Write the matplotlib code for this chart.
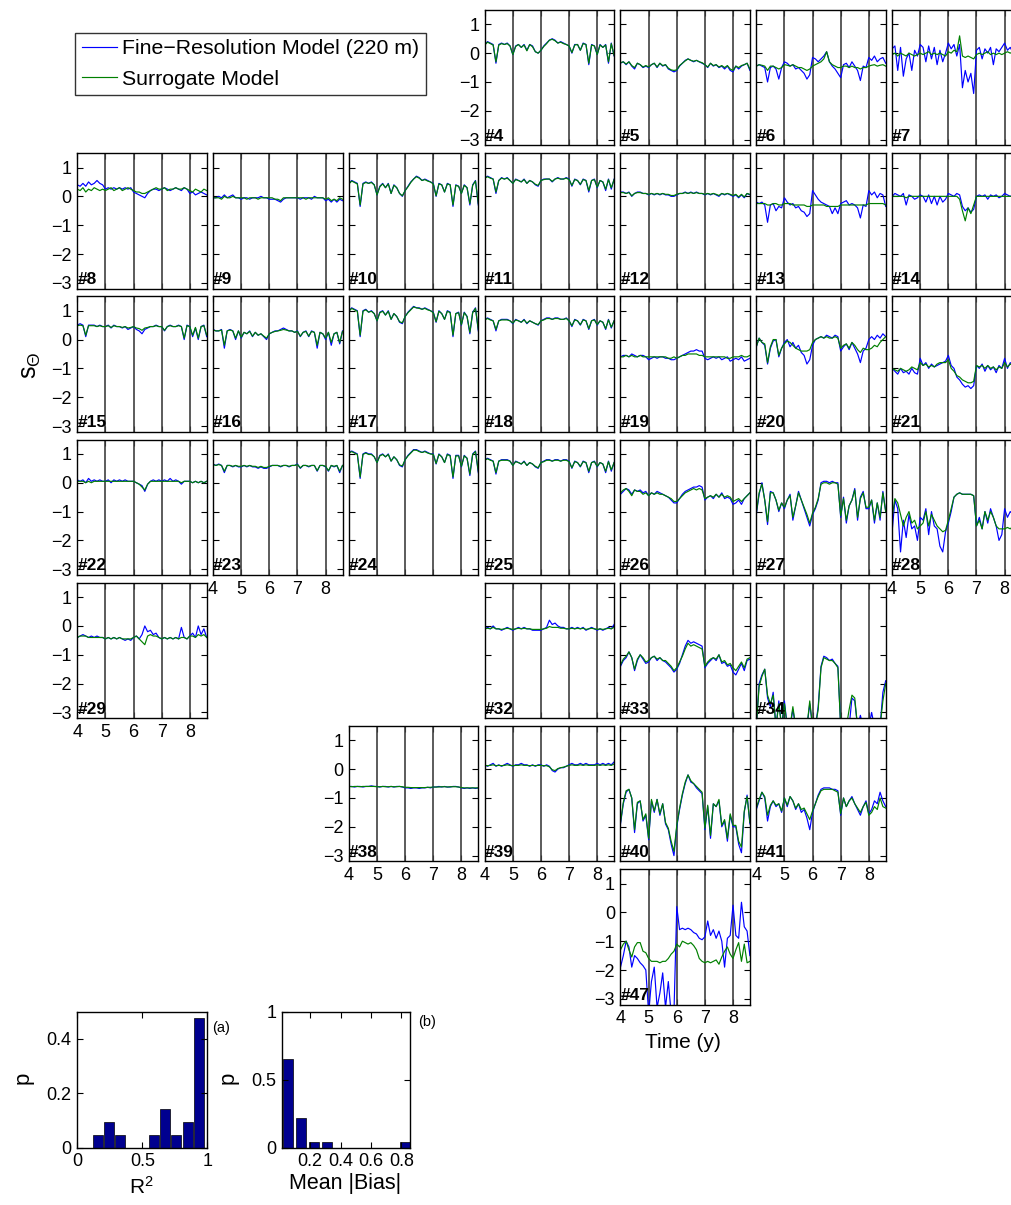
import matplotlib
matplotlib.use('Agg')
import matplotlib.pyplot as plt
from matplotlib.ticker import StrMethodFormatter

plt.rcParams['font.family'] = ['Liberation Sans', 'DejaVu Sans']
plt.rcParams['mathtext.fontset'] = 'custom'
plt.rcParams['mathtext.rm'] = 'Liberation Sans'
plt.rcParams['mathtext.it'] = 'Liberation Sans:italic'

# ---------------- data ----------------
time_y = [4.0, 4.1, 4.2, 4.3, 4.4, 4.5, 4.6, 4.7, 4.8, 4.9,
          5.0, 5.1, 5.2, 5.3, 5.4, 5.5, 5.6, 5.7, 5.8, 5.9,
          6.0, 6.1, 6.2, 6.3, 6.4, 6.5, 6.6, 6.7, 6.8, 6.9,
          7.0, 7.1, 7.2, 7.3, 7.4, 7.5, 7.6, 7.7, 7.8, 7.9,
          8.0, 8.1, 8.2, 8.3, 8.4, 8.5, 8.6]
year_lines = [5, 6, 7, 8]

# f = fine-resolution model (blue), s = surrogate model (green)
f04 = [0.3,0.4,0.35,0.3,-0.35,0.3,0.35,0.3,0.35,0.25, -0.05,0.25,0.3,0.2,0.3,0.1,0.3,0.25,0.05,0.0, 0.1,0.25,0.35,0.45,0.5,0.45,0.35,0.4,0.35,0.3, 0.25,0.0,0.3,0.3,0.1,0.35,0.3,-0.4,0.3,0.25, -0.05,0.3,0.2,0.3,-0.35,0.35,-0.1]
s04 = [0.28,0.38,0.33,0.28,-0.3,0.28,0.33,0.3,0.33,0.25, -0.05,0.23,0.3,0.2,0.28,0.08,0.3,0.22,0.05,0.0, 0.1,0.23,0.33,0.45,0.48,0.43,0.35,0.38,0.33,0.3, 0.25,0.02,0.28,0.3,0.1,0.33,0.3,-0.35,0.28,0.25, -0.05,0.28,0.2,0.28,-0.3,0.33,-0.08]
f05 = [-0.35,-0.3,-0.4,-0.3,-0.45,-0.55,-0.35,-0.4,-0.5,-0.45, -0.5,-0.4,-0.35,-0.5,-0.35,-0.45,-0.4,-0.55,-0.6,-0.65, -0.6,-0.45,-0.35,-0.25,-0.2,-0.25,-0.3,-0.25,-0.3,-0.35, -0.4,-0.5,-0.35,-0.45,-0.4,-0.5,-0.45,-0.55,-0.45,-0.6, -0.65,-0.45,-0.55,-0.45,-0.4,-0.35,-0.6]
s05 = [-0.33,-0.3,-0.38,-0.3,-0.43,-0.5,-0.35,-0.4,-0.48,-0.43, -0.48,-0.4,-0.35,-0.48,-0.35,-0.43,-0.4,-0.52,-0.58,-0.6, -0.58,-0.43,-0.35,-0.27,-0.2,-0.25,-0.28,-0.25,-0.3,-0.33, -0.4,-0.48,-0.35,-0.43,-0.4,-0.48,-0.43,-0.5,-0.43,-0.55, -0.6,-0.45,-0.5,-0.43,-0.4,-0.35,-0.55]
f06 = [-0.45,-0.4,-0.45,-0.5,-1.0,-0.5,-0.45,-0.55,-0.9,-0.5, -0.3,-0.35,-0.45,-0.4,-0.55,-0.5,-0.6,-0.7,-0.9,-0.75, -0.15,-0.2,-0.3,-0.2,-0.1,0.05,-0.3,-0.45,-0.55,-0.7, -0.85,-0.4,-0.35,-0.5,-0.3,-0.45,-0.6,-0.95,-0.45,-0.5, -0.15,-0.25,-0.1,-0.3,-0.2,-0.15,-0.35]
s06 = [-0.45,-0.4,-0.42,-0.45,-0.6,-0.45,-0.45,-0.5,-0.55,-0.5, -0.4,-0.42,-0.45,-0.4,-0.45,-0.5,-0.5,-0.55,-0.6,-0.55, -0.45,-0.4,-0.35,-0.3,-0.2,0.05,-0.3,-0.4,-0.45,-0.5, -0.5,-0.45,-0.45,-0.5,-0.45,-0.5,-0.5,-0.55,-0.5,-0.5, -0.45,-0.42,-0.4,-0.45,-0.42,-0.4,-0.45]
f07 = [0.15,0.25,-0.6,0.2,-0.8,-0.2,0.0,-0.6,0.1,-0.1, 0.3,0.2,-0.3,0.25,-0.2,0.2,-0.4,0.1,-0.3,0.0, 0.35,0.15,0.3,-0.1,0.3,-1.2,-0.6,-1.0,-0.7,-1.4, 0.1,0.2,-0.2,0.15,0.0,0.2,-0.4,0.15,0.05,0.2, 0.35,0.1,0.2,0.0,0.2,0.1,0.15]
s07 = [-0.05,0.0,-0.1,0.0,-0.05,-0.1,0.0,-0.05,-0.1,-0.05, 0.0,-0.05,0.0,0.05,-0.05,0.0,-0.05,0.0,-0.05,-0.1, 0.05,0.0,0.1,0.05,0.6,-0.1,-0.15,-0.1,-0.15,-0.2, -0.05,0.0,-0.05,0.0,0.05,-0.05,0.0,-0.05,0.0,-0.05, 0.0,0.05,0.0,0.05,0.0,-0.05,0.0]
f08 = [0.4,0.35,0.45,0.35,0.5,0.4,0.45,0.55,0.45,0.4, 0.25,0.3,0.25,0.3,0.25,0.3,0.25,0.3,0.25,0.3, 0.15,0.1,0.05,0.0,-0.05,0.1,0.2,0.25,0.25,0.2, 0.25,0.3,0.25,0.2,0.25,0.3,0.25,0.2,0.3,0.25, 0.1,0.15,0.05,0.1,0.15,0.1,0.05]
s08 = [0.25,0.2,0.3,0.15,0.25,0.2,0.3,0.25,0.2,0.25, 0.2,0.25,0.3,0.2,0.25,0.3,0.2,0.25,0.3,0.25, 0.2,0.15,0.15,0.1,0.1,0.15,0.2,0.25,0.3,0.25, 0.25,0.3,0.2,0.25,0.25,0.3,0.25,0.25,0.3,0.25, 0.2,0.15,0.25,0.2,0.15,0.25,0.2]
f09 = [-0.05,-0.05,0.0,-0.05,0.05,-0.05,0.0,0.05,-0.05,-0.05, -0.1,-0.05,-0.05,-0.1,-0.05,-0.05,-0.05,0.0,-0.05,-0.05, -0.1,-0.1,-0.1,-0.15,-0.2,-0.1,-0.05,-0.05,-0.05,-0.05, -0.05,-0.1,-0.05,-0.05,-0.05,-0.1,0.0,-0.05,-0.05,-0.05, -0.15,-0.1,-0.2,-0.1,-0.2,-0.1,-0.15]
s09 = [-0.05,-0.05,-0.05,-0.1,0.0,-0.05,-0.05,0.0,-0.05,-0.05, -0.05,-0.05,-0.1,-0.05,-0.05,-0.05,-0.1,-0.05,-0.05,-0.05, -0.05,-0.05,-0.1,-0.1,-0.15,-0.05,-0.05,-0.05,-0.05,-0.05, -0.05,-0.05,-0.05,-0.1,-0.05,-0.05,-0.05,-0.05,-0.05,-0.05, -0.1,-0.05,-0.15,-0.1,-0.15,-0.05,-0.1]
f10 = [0.45,0.55,0.5,0.45,-0.35,0.45,0.5,0.45,0.5,0.4, 0.05,0.35,0.45,0.3,0.45,0.1,0.4,0.3,0.1,0.0, 0.2,0.35,0.5,0.6,0.7,0.65,0.55,0.6,0.55,0.5, 0.45,0.0,0.45,0.4,0.15,0.45,0.4,-0.35,0.4,0.35, 0.1,0.4,0.3,-0.3,0.4,0.55,-0.3]
s10 = [0.43,0.53,0.48,0.43,-0.3,0.43,0.48,0.45,0.48,0.4, 0.05,0.33,0.43,0.3,0.43,0.1,0.38,0.3,0.1,0.02, 0.2,0.33,0.48,0.6,0.68,0.63,0.55,0.58,0.53,0.5, 0.43,0.02,0.43,0.4,0.15,0.43,0.4,-0.3,0.38,0.35, 0.1,0.38,0.3,-0.25,0.38,0.53,-0.25]
f11 = [0.65,0.7,0.65,0.6,0.1,0.55,0.65,0.6,0.65,0.55, 0.45,0.6,0.55,0.5,0.6,0.45,0.55,0.5,0.4,0.35, 0.55,0.6,0.6,0.6,0.5,0.6,0.65,0.6,0.6,0.65, 0.6,0.35,0.6,0.55,0.4,0.6,0.55,0.15,0.55,0.6, 0.3,0.55,0.5,0.2,0.6,0.25,0.6]
s11 = [0.63,0.68,0.63,0.6,0.15,0.55,0.63,0.6,0.63,0.55, 0.45,0.58,0.55,0.5,0.58,0.45,0.55,0.5,0.42,0.38, 0.55,0.58,0.6,0.6,0.52,0.6,0.63,0.6,0.6,0.63, 0.58,0.38,0.58,0.55,0.42,0.58,0.55,0.2,0.55,0.58, 0.32,0.55,0.5,0.25,0.58,0.3,0.58]
f12 = [0.15,0.15,0.1,0.15,0.0,0.1,0.15,0.15,0.1,0.1, 0.05,0.1,0.05,0.1,0.05,0.1,0.05,0.05,0.0,0.0, 0.05,0.1,0.1,0.15,0.1,0.15,0.1,0.15,0.1,0.1, 0.05,0.1,0.05,0.1,0.05,0.0,0.1,0.05,0.1,0.05, 0.0,0.05,-0.05,0.05,-0.05,0.1,0.05]
s12 = [0.13,0.13,0.1,0.13,0.02,0.1,0.13,0.13,0.1,0.1, 0.07,0.1,0.07,0.1,0.07,0.1,0.07,0.07,0.03,0.03, 0.07,0.1,0.1,0.13,0.1,0.13,0.1,0.13,0.1,0.1, 0.07,0.1,0.07,0.1,0.07,0.03,0.1,0.07,0.1,0.07, 0.03,0.07,-0.02,0.07,-0.02,0.1,0.07]
f13 = [-0.2,-0.25,-0.2,-0.3,-0.9,-0.3,-0.25,-0.5,-0.35,-0.4, -0.05,-0.2,-0.3,-0.25,-0.4,-0.35,-0.5,-0.55,-0.7,-0.6, 0.2,0.05,-0.1,-0.2,-0.25,-0.3,-0.35,-0.6,-0.4,-0.6, -0.25,-0.2,-0.15,-0.3,-0.25,-0.3,-0.4,-0.75,-0.3,-0.35, 0.2,0.05,0.15,-0.05,0.1,0.05,-0.35]
s13 = [-0.25,-0.25,-0.25,-0.25,-0.3,-0.3,-0.25,-0.25,-0.3,-0.3, -0.25,-0.25,-0.25,-0.3,-0.3,-0.3,-0.3,-0.3,-0.35,-0.35, -0.3,-0.3,-0.3,-0.3,-0.3,-0.35,-0.35,-0.35,-0.35,-0.35, -0.3,-0.3,-0.3,-0.3,-0.3,-0.3,-0.3,-0.3,-0.3,-0.3, -0.25,-0.25,-0.25,-0.25,-0.25,-0.25,-0.3]
f14 = [0.0,0.1,0.05,0.0,0.1,-0.3,0.05,0.0,-0.1,-0.05, 0.05,0.0,-0.2,0.05,-0.25,0.0,-0.3,0.0,-0.2,-0.1, 0.1,0.05,0.0,0.1,0.05,-0.35,-0.5,-0.4,-0.55,-0.45, 0.0,0.05,0.0,0.05,-0.1,0.05,0.0,0.05,-0.05,0.0, 0.1,0.05,0.0,0.05,0.0,0.05,0.0]
s14 = [0.0,0.0,0.0,0.0,0.0,-0.05,0.0,0.0,0.0,0.0, 0.0,0.0,0.0,0.0,0.0,0.0,0.0,0.0,0.0,0.0, 0.0,0.0,0.0,0.0,-0.1,-0.5,-0.85,-0.4,-0.6,-0.3, 0.0,0.0,0.0,0.0,0.0,0.0,0.0,0.0,0.0,0.0, 0.0,0.0,0.0,0.0,0.0,0.0,0.0]
f15 = [0.5,0.55,0.5,0.1,0.5,0.5,0.5,0.45,0.5,0.45, 0.45,0.5,0.4,0.5,0.45,0.45,0.4,0.45,0.35,0.4, 0.45,0.35,0.3,0.2,0.35,0.4,0.45,0.45,0.5,0.45, 0.45,0.3,0.45,0.5,0.45,0.45,0.5,0.45,0.0,0.5, 0.45,0.1,0.4,0.0,0.45,0.5,0.1]
s15 = [0.48,0.5,0.48,0.15,0.48,0.48,0.48,0.45,0.48,0.45, 0.45,0.48,0.42,0.48,0.45,0.45,0.42,0.45,0.4,0.42, 0.45,0.4,0.38,0.32,0.4,0.42,0.45,0.45,0.48,0.45, 0.45,0.32,0.45,0.48,0.45,0.45,0.48,0.45,0.05,0.48, 0.45,0.15,0.42,0.05,0.45,0.48,0.15]
f16 = [0.35,0.3,0.3,0.35,-0.3,0.3,0.35,0.3,0.0,0.3, 0.05,0.25,0.2,0.3,0.1,0.25,0.15,0.2,0.1,0.0, 0.2,0.25,0.3,0.3,0.35,0.4,0.35,0.3,0.3,0.25, 0.3,0.1,0.25,0.3,0.1,0.3,0.25,-0.3,0.25,0.2, 0.0,0.25,-0.2,0.2,0.25,-0.15,0.3]
s16 = [0.33,0.3,0.3,0.33,-0.2,0.3,0.33,0.3,0.05,0.3, 0.08,0.25,0.2,0.28,0.12,0.25,0.15,0.2,0.12,0.05, 0.2,0.25,0.28,0.3,0.32,0.35,0.33,0.3,0.3,0.25, 0.28,0.12,0.25,0.28,0.12,0.28,0.25,-0.2,0.25,0.2, 0.05,0.25,-0.1,0.2,0.25,-0.1,0.28]
f17 = [1.0,1.1,1.05,1.0,0.1,1.0,1.05,0.95,1.0,0.9, 0.65,0.95,1.0,0.85,1.0,0.7,0.9,0.8,0.6,0.55, 0.8,0.95,1.05,1.15,1.1,1.1,1.05,1.1,1.05,1.0, 0.95,0.6,1.0,0.9,0.7,1.0,0.95,0.1,0.9,0.95, 0.5,0.95,0.8,0.2,0.95,1.1,0.3]
s17 = [0.98,1.08,1.03,0.98,0.15,0.98,1.03,0.95,0.98,0.9, 0.65,0.93,0.98,0.85,0.98,0.7,0.9,0.8,0.62,0.58, 0.8,0.93,1.03,1.13,1.1,1.08,1.05,1.08,1.03,1.0, 0.93,0.62,0.98,0.9,0.7,0.98,0.93,0.15,0.9,0.93, 0.52,0.93,0.8,0.25,0.93,1.08,0.35]
f18 = [0.7,0.75,0.7,0.65,0.3,0.65,0.7,0.7,0.7,0.65, 0.55,0.7,0.65,0.6,0.7,0.55,0.65,0.6,0.55,0.5, 0.65,0.7,0.75,0.75,0.7,0.75,0.75,0.7,0.7,0.75, 0.65,0.45,0.7,0.65,0.5,0.7,0.65,0.35,0.65,0.7, 0.5,0.65,0.6,0.35,0.7,0.4,0.65]
s18 = [0.68,0.73,0.68,0.65,0.35,0.65,0.68,0.68,0.68,0.65, 0.57,0.68,0.65,0.6,0.68,0.57,0.65,0.6,0.55,0.52, 0.65,0.68,0.73,0.73,0.7,0.73,0.73,0.7,0.7,0.73, 0.65,0.48,0.68,0.65,0.52,0.68,0.65,0.38,0.65,0.68, 0.52,0.65,0.6,0.38,0.68,0.43,0.65]
f19 = [-0.6,-0.55,-0.55,-0.6,-0.5,-0.55,-0.6,-0.55,-0.55,-0.6, -0.7,-0.65,-0.6,-0.65,-0.6,-0.6,-0.65,-0.65,-0.7,-0.7, -0.65,-0.6,-0.55,-0.5,-0.45,-0.4,-0.4,-0.35,-0.4,-0.4, -0.65,-0.7,-0.65,-0.6,-0.65,-0.6,-0.7,-0.65,-0.6,-0.75, -0.7,-0.65,-0.7,-0.6,-0.75,-0.7,-0.65]
s19 = [-0.6,-0.6,-0.55,-0.6,-0.55,-0.6,-0.6,-0.55,-0.6,-0.6, -0.6,-0.6,-0.6,-0.6,-0.6,-0.6,-0.6,-0.65,-0.65,-0.6, -0.65,-0.6,-0.55,-0.55,-0.5,-0.5,-0.5,-0.5,-0.55,-0.55, -0.6,-0.6,-0.6,-0.6,-0.6,-0.6,-0.6,-0.6,-0.65,-0.65, -0.6,-0.6,-0.6,-0.55,-0.6,-0.6,-0.55]
f20 = [-0.25,0.05,-0.1,-0.2,-0.85,-0.3,-0.05,0.0,-0.6,-0.3, -0.1,0.0,-0.25,-0.1,-0.3,-0.2,-0.45,-0.55,-0.85,-0.7, -0.2,0.0,0.05,0.1,0.05,0.15,0.1,0.05,0.15,0.1, -0.4,-0.25,-0.15,-0.35,-0.1,-0.3,-0.5,-0.8,-0.4,-0.3, 0.0,0.1,0.0,0.15,0.05,0.2,0.1]
s20 = [-0.25,0.05,-0.1,-0.15,-0.8,-0.25,0.0,0.0,-0.55,-0.3, -0.15,-0.05,-0.1,-0.2,-0.3,-0.35,-0.4,-0.4,-0.4,-0.35, -0.1,0.0,0.05,0.1,0.05,0.1,0.05,0.05,0.1,0.05, -0.3,-0.2,-0.15,-0.3,-0.1,-0.2,-0.35,-0.45,-0.3,-0.35, -0.35,-0.3,-0.2,-0.25,-0.1,0.0,0.1]
f21 = [-1.0,-1.1,-1.2,-1.0,-1.15,-1.1,-1.2,-1.0,-1.15,-1.2, -0.65,-0.9,-0.8,-1.0,-0.85,-0.95,-0.9,-0.85,-0.8,-0.75, -0.55,-0.9,-1.0,-1.3,-1.4,-1.55,-1.65,-1.6,-1.7,-1.6, -0.9,-1.0,-0.85,-1.1,-0.9,-1.05,-0.95,-1.15,-0.9,-1.0, -0.65,-1.0,-0.8,-0.9,-0.85,-0.95,-0.9]
s21 = [-1.0,-1.05,-1.1,-1.0,-1.05,-1.1,-1.05,-0.95,-1.0,-1.05, -0.8,-0.9,-0.85,-0.95,-0.9,-0.95,-0.85,-0.8,-0.8,-0.8, -0.7,-1.0,-1.1,-1.25,-1.3,-1.4,-1.45,-1.5,-1.5,-1.45, -0.9,-0.95,-0.9,-1.0,-0.9,-1.0,-0.95,-1.05,-0.95,-1.0, -0.8,-0.95,-0.85,-0.9,-0.9,-0.95,-0.9]
f22 = [0.1,0.05,0.1,0.0,0.15,0.05,0.1,0.05,0.1,0.05, 0.05,0.1,0.0,0.1,0.05,0.1,0.05,0.1,0.05,0.05, 0.05,0.0,-0.05,-0.1,-0.3,-0.05,0.05,0.1,0.05,0.1, 0.05,0.1,0.05,0.15,0.05,0.1,0.05,-0.05,0.05,0.05, 0.05,0.0,0.05,0.0,0.05,0.0,0.05]
s22 = [0.05,0.05,0.05,0.0,0.05,0.0,0.05,0.05,0.05,0.05, 0.05,0.05,0.05,0.05,0.05,0.05,0.05,0.05,0.05,0.05, 0.05,0.0,-0.05,-0.15,-0.25,-0.05,0.05,0.05,0.05,0.05, 0.05,0.05,0.05,0.05,0.05,0.05,0.05,0.0,0.05,0.05, 0.05,0.0,0.05,0.0,0.05,0.0,0.05]
f23 = [0.65,0.6,0.65,0.6,0.35,0.6,0.6,0.55,0.6,0.55, 0.55,0.6,0.55,0.6,0.55,0.55,0.5,0.55,0.5,0.5, 0.55,0.6,0.6,0.6,0.55,0.6,0.6,0.55,0.6,0.6, 0.65,0.5,0.6,0.6,0.55,0.6,0.6,0.4,0.6,0.6, 0.55,0.4,0.6,0.55,0.6,0.35,0.6]
s23 = [0.63,0.6,0.63,0.6,0.4,0.6,0.6,0.57,0.6,0.57, 0.57,0.6,0.57,0.6,0.57,0.57,0.53,0.57,0.53,0.53, 0.57,0.6,0.6,0.6,0.57,0.6,0.6,0.57,0.6,0.6, 0.63,0.52,0.6,0.6,0.57,0.6,0.6,0.42,0.6,0.6, 0.57,0.42,0.6,0.57,0.6,0.4,0.6]
f24 = [1.05,1.1,1.05,1.0,0.15,1.0,1.05,1.0,1.0,0.9, 0.7,0.95,1.0,0.9,1.0,0.75,0.9,0.8,0.6,0.55, 0.8,0.95,1.05,1.15,1.15,1.1,1.05,1.1,1.05,1.0, 1.0,0.65,1.0,0.9,0.7,1.0,0.95,0.15,0.95,0.95, 0.55,0.95,0.85,0.25,1.0,1.1,0.35]
s24 = [1.03,1.08,1.03,0.98,0.2,0.98,1.03,0.98,0.98,0.9, 0.7,0.93,0.98,0.9,0.98,0.75,0.9,0.8,0.62,0.58, 0.8,0.93,1.03,1.13,1.13,1.08,1.05,1.08,1.03,1.0, 0.98,0.67,0.98,0.9,0.7,0.98,0.93,0.2,0.93,0.93, 0.57,0.93,0.85,0.3,0.98,1.08,0.4]
f25 = [0.8,0.85,0.8,0.75,0.3,0.75,0.8,0.8,0.8,0.75, 0.6,0.75,0.7,0.65,0.75,0.6,0.7,0.65,0.55,0.5, 0.7,0.75,0.8,0.8,0.75,0.8,0.8,0.75,0.8,0.8, 0.75,0.5,0.75,0.7,0.55,0.75,0.7,0.35,0.7,0.75, 0.55,0.7,0.65,0.35,0.75,0.4,0.7]
s25 = [0.78,0.83,0.78,0.75,0.35,0.75,0.78,0.78,0.78,0.75, 0.6,0.73,0.7,0.65,0.73,0.6,0.7,0.65,0.57,0.52, 0.7,0.73,0.78,0.78,0.75,0.78,0.78,0.75,0.78,0.78, 0.73,0.52,0.73,0.7,0.57,0.73,0.7,0.4,0.7,0.73, 0.57,0.7,0.65,0.4,0.73,0.45,0.7]
f26 = [-0.4,-0.3,-0.2,-0.25,-0.4,-0.25,-0.3,-0.25,-0.35,-0.3, -0.45,-0.35,-0.4,-0.3,-0.35,-0.4,-0.45,-0.5,-0.6,-0.7, -0.7,-0.55,-0.4,-0.3,-0.25,-0.2,-0.15,-0.15,-0.1,-0.15, -0.6,-0.5,-0.45,-0.55,-0.4,-0.5,-0.35,-0.55,-0.5,-0.55, -0.75,-0.7,-0.6,-0.75,-0.55,-0.45,-0.35]
s26 = [-0.35,-0.25,-0.2,-0.3,-0.45,-0.25,-0.3,-0.3,-0.4,-0.35, -0.45,-0.35,-0.4,-0.35,-0.4,-0.4,-0.45,-0.5,-0.55,-0.65, -0.65,-0.55,-0.45,-0.35,-0.3,-0.25,-0.2,-0.25,-0.2,-0.25, -0.55,-0.5,-0.45,-0.5,-0.4,-0.5,-0.4,-0.5,-0.45,-0.5, -0.65,-0.6,-0.55,-0.65,-0.55,-0.45,-0.35]
f27 = [-1.1,-0.4,0.0,-0.6,-1.45,-0.3,-0.35,-0.6,-1.0,-0.7, -0.9,-0.6,-0.4,-1.3,-0.8,-0.3,-0.6,-0.9,-1.2,-1.5, -1.1,-0.9,-0.6,0.0,0.05,0.05,0.0,0.05,0.0,0.0, -1.2,-0.5,-1.4,-0.8,-0.6,-0.2,-1.3,-0.5,-0.3,-0.9, -0.9,-0.6,-1.4,-0.7,-1.3,-0.3,-1.0]
s27 = [-1.05,-0.35,-0.05,-0.6,-1.35,-0.35,-0.35,-0.6,-0.95,-0.7, -0.85,-0.6,-0.45,-1.2,-0.8,-0.35,-0.6,-0.85,-1.1,-1.4, -1.05,-0.85,-0.55,-0.05,0.0,0.0,-0.05,0.0,0.0,-0.05, -1.15,-0.55,-1.3,-0.8,-0.6,-0.25,-1.2,-0.55,-0.35,-0.85, -0.85,-0.6,-1.3,-0.7,-1.2,-0.35,-1.0]
f28 = [-1.7,-0.6,-0.9,-2.4,-1.3,-1.9,-1.1,-1.6,-1.5,-2.0, -1.2,-1.3,-0.9,-1.8,-1.0,-1.5,-1.6,-2.2,-2.4,-1.7, -1.4,-1.0,-0.5,-0.4,-0.35,-0.4,-0.4,-0.4,-0.4,-0.45, -1.5,-1.2,-1.6,-1.0,-1.4,-0.9,-1.2,-1.5,-2.0,-1.8, -0.9,-1.2,-1.0,-1.1,-1.3,-1.2,-1.1]
s28 = [-1.2,-0.55,-0.7,-1.1,-1.5,-1.2,-1.0,-1.4,-1.3,-1.6, -1.5,-1.4,-1.0,-1.5,-1.1,-1.3,-1.5,-1.6,-1.7,-1.65, -1.3,-0.9,-0.5,-0.4,-0.35,-0.4,-0.4,-0.4,-0.4,-0.45, -1.5,-1.3,-1.6,-1.0,-1.3,-1.0,-1.2,-1.5,-1.6,-1.6, -1.6,-1.55,-1.6,-1.5,-1.55,-1.6,-1.5]
f29 = [-0.4,-0.35,-0.3,-0.35,-0.4,-0.35,-0.4,-0.35,-0.4,-0.4, -0.45,-0.4,-0.45,-0.4,-0.45,-0.4,-0.45,-0.5,-0.45,-0.5, -0.4,-0.35,-0.45,-0.3,0.0,-0.2,-0.15,-0.3,-0.25,-0.4, -0.45,-0.4,-0.45,-0.4,-0.45,-0.4,-0.45,-0.05,-0.4,-0.45, -0.35,-0.25,-0.4,0.0,-0.3,-0.1,-0.4]
s29 = [-0.4,-0.35,-0.35,-0.35,-0.4,-0.4,-0.4,-0.4,-0.4,-0.4, -0.45,-0.4,-0.45,-0.4,-0.45,-0.4,-0.45,-0.45,-0.45,-0.45, -0.4,-0.35,-0.45,-0.55,-0.65,-0.35,-0.3,-0.35,-0.35,-0.4, -0.45,-0.4,-0.45,-0.4,-0.45,-0.4,-0.45,-0.4,-0.4,-0.45, -0.35,-0.35,-0.4,-0.3,-0.35,-0.3,-0.4]
f32 = [-0.1,-0.05,-0.1,0.0,-0.1,-0.1,-0.15,-0.1,-0.05,-0.1, -0.15,-0.1,-0.05,-0.1,-0.05,-0.1,-0.1,-0.15,-0.15,-0.15, -0.15,-0.1,-0.05,0.2,0.05,0.1,0.0,-0.05,-0.05,-0.1, -0.1,-0.05,-0.1,-0.05,-0.1,-0.05,-0.15,-0.1,-0.05,-0.1, -0.15,-0.1,-0.15,-0.1,-0.05,-0.1,0.05]
s32 = [-0.1,-0.08,-0.1,-0.05,-0.1,-0.1,-0.12,-0.1,-0.08,-0.1, -0.12,-0.1,-0.08,-0.1,-0.08,-0.1,-0.1,-0.12,-0.12,-0.12, -0.12,-0.1,-0.08,-0.02,-0.05,-0.05,-0.05,-0.08,-0.08,-0.1, -0.1,-0.08,-0.1,-0.08,-0.1,-0.08,-0.12,-0.1,-0.08,-0.1, -0.12,-0.1,-0.12,-0.1,-0.08,-0.1,-0.05]
f33 = [-1.4,-1.2,-1.1,-0.9,-1.1,-1.55,-1.2,-1.0,-1.15,-1.3, -1.25,-1.1,-1.05,-1.2,-1.1,-1.2,-1.25,-1.35,-1.45,-1.6, -1.5,-1.3,-1.0,-0.7,-0.5,-0.6,-0.55,-0.6,-0.65,-0.7, -1.45,-1.3,-1.2,-1.1,-1.2,-1.0,-1.3,-1.25,-1.4,-1.35, -1.6,-1.7,-1.5,-1.3,-1.55,-1.2,-1.15]
s33 = [-1.35,-1.15,-1.05,-0.9,-1.1,-1.5,-1.15,-1.0,-1.1,-1.25, -1.2,-1.1,-1.05,-1.15,-1.1,-1.2,-1.2,-1.3,-1.4,-1.55, -1.45,-1.25,-1.05,-0.8,-0.6,-0.7,-0.65,-0.7,-0.75,-0.8, -1.4,-1.25,-1.15,-1.1,-1.15,-1.0,-1.25,-1.2,-1.35,-1.3, -1.45,-1.55,-1.4,-1.25,-1.45,-1.15,-1.1]
f34 = [-3.5,-2.0,-1.7,-1.5,-2.5,-2.8,-2.3,-3.5,-2.6,-3.5, -2.6,-3.5,-3.5,-2.9,-3.5,-3.5,-3.5,-3.5,-3.5,-2.7, -3.5,-3.5,-2.8,-1.4,-1.05,-1.1,-1.2,-1.15,-1.3,-1.4, -3.5,-3.5,-3.5,-3.5,-2.5,-2.6,-3.5,-3.1,-3.5,-3.5, -3.5,-3.0,-3.5,-3.5,-3.5,-2.3,-1.9]
s34 = [-3.5,-2.1,-1.75,-1.5,-2.4,-2.7,-2.4,-3.5,-2.7,-3.5, -2.7,-3.5,-3.5,-2.8,-3.5,-3.5,-3.5,-3.5,-3.5,-2.6, -3.5,-3.5,-2.9,-1.45,-1.1,-1.15,-1.2,-1.2,-1.3,-1.45, -3.5,-3.5,-3.5,-2.9,-2.4,-2.5,-3.5,-3.5,-3.5,-3.5, -3.5,-3.5,-3.5,-3.5,-3.5,-2.6,-2.0]
f38 = [-0.6,-0.6,-0.62,-0.6,-0.6,-0.62,-0.6,-0.6,-0.58,-0.6, -0.6,-0.62,-0.6,-0.6,-0.62,-0.6,-0.62,-0.6,-0.6,-0.62, -0.65,-0.65,-0.67,-0.65,-0.65,-0.67,-0.65,-0.65,-0.63,-0.65, -0.62,-0.62,-0.6,-0.62,-0.6,-0.62,-0.62,-0.6,-0.6,-0.62, -0.65,-0.67,-0.65,-0.67,-0.65,-0.67,-0.65]
s38 = [-0.6,-0.61,-0.6,-0.6,-0.61,-0.6,-0.6,-0.6,-0.6,-0.6, -0.61,-0.61,-0.6,-0.61,-0.61,-0.6,-0.61,-0.61,-0.6,-0.61, -0.63,-0.63,-0.64,-0.64,-0.64,-0.64,-0.64,-0.64,-0.63,-0.63, -0.62,-0.62,-0.62,-0.61,-0.61,-0.62,-0.61,-0.61,-0.61,-0.62, -0.64,-0.65,-0.65,-0.65,-0.65,-0.65,-0.65]
f39 = [0.15,0.1,0.15,0.2,0.1,0.15,0.1,0.15,0.2,0.15, 0.1,0.15,0.15,0.2,0.15,0.15,0.1,0.15,0.1,0.15, 0.15,0.1,0.15,0.1,-0.05,-0.1,0.0,0.05,0.05,0.1, 0.15,0.2,0.15,0.15,0.2,0.15,0.2,0.15,0.15,0.15, 0.2,0.15,0.2,0.15,0.2,0.15,0.25]
s39 = [0.13,0.12,0.13,0.15,0.12,0.13,0.12,0.13,0.15,0.13, 0.12,0.13,0.13,0.15,0.13,0.13,0.12,0.13,0.12,0.13, 0.13,0.12,0.12,0.08,-0.02,-0.05,0.02,0.05,0.07,0.1, 0.13,0.15,0.13,0.13,0.15,0.13,0.15,0.13,0.13,0.13, 0.15,0.13,0.15,0.13,0.15,0.13,0.18]
f40 = [-1.9,-1.2,-0.8,-0.7,-1.0,-2.2,-1.2,-1.1,-1.8,-1.6, -2.45,-1.1,-1.5,-1.05,-1.6,-1.2,-1.9,-2.1,-2.6,-3.0, -2.0,-1.4,-0.9,-0.5,-0.2,-0.45,-0.5,-0.65,-0.75,-0.85, -2.1,-1.3,-2.4,-1.2,-1.3,-1.1,-2.0,-1.8,-2.5,-1.6, -2.0,-2.0,-2.6,-2.9,-1.5,-0.9,-1.9]
s40 = [-1.85,-1.15,-0.75,-0.7,-1.0,-2.1,-1.15,-1.1,-1.75,-1.55, -2.4,-1.05,-1.45,-1.05,-1.55,-1.2,-1.85,-2.05,-2.5,-2.85, -1.95,-1.35,-0.85,-0.45,-0.2,-0.4,-0.5,-0.6,-0.7,-0.8, -2.05,-1.25,-2.3,-1.2,-1.3,-1.05,-1.95,-1.75,-2.4,-1.55, -1.95,-1.95,-2.5,-2.7,-1.45,-0.95,-1.85]
f41 = [-1.4,-1.1,-0.8,-1.0,-1.8,-1.3,-1.1,-1.3,-1.2,-1.5, -1.0,-1.3,-0.95,-1.1,-1.4,-1.2,-1.5,-1.4,-1.7,-2.1, -1.5,-1.2,-0.9,-0.7,-0.65,-0.65,-0.65,-0.7,-0.7,-0.75, -1.6,-1.0,-1.3,-1.1,-0.95,-1.2,-1.4,-1.6,-1.3,-1.1, -1.55,-1.4,-1.1,-1.2,-0.8,-1.1,-1.3]
s41 = [-1.35,-1.05,-0.8,-0.95,-1.6,-1.25,-1.1,-1.25,-1.2,-1.45, -1.0,-1.25,-0.95,-1.1,-1.35,-1.2,-1.4,-1.35,-1.55,-1.75, -1.45,-1.2,-0.95,-0.75,-0.7,-0.7,-0.7,-0.7,-0.75,-0.8, -1.55,-1.0,-1.3,-1.1,-1.0,-1.2,-1.35,-1.5,-1.3,-1.15, -1.6,-1.5,-1.3,-1.4,-1.0,-1.3,-1.35]
f47 = [-1.9,-1.5,-1.0,-1.2,-1.9,-1.5,-1.6,-1.75,-1.85,-2.0, -3.5,-2.4,-1.9,-3.3,-2.8,-2.1,-3.3,-2.4,-3.5,-3.5, 0.2,-0.6,-0.55,-0.6,-0.55,-0.6,-0.7,-0.75,-0.9,-0.95, -0.85,-0.3,-0.8,-0.6,-0.9,-0.65,-1.0,-1.9,-0.9,-0.8, 0.25,-0.8,-0.9,0.35,-0.5,-0.65,-1.5]
s47 = [-1.3,-1.1,-1.0,-1.3,-1.55,-1.2,-1.05,-1.05,-1.35,-1.4, -1.6,-1.7,-1.7,-1.7,-1.75,-1.7,-1.7,-1.6,-1.45,-1.35, -1.1,-1.2,-1.0,-1.05,-1.1,-1.05,-1.15,-1.3,-1.6,-1.7, -1.75,-1.7,-1.75,-1.7,-1.65,-1.8,-1.55,-1.35,-1.2,-1.45, -1.6,-1.3,-1.05,-1.7,-1.1,-1.75,-1.7]

panels = {4: (f04, s04), 5: (f05, s05), 6: (f06, s06), 7: (f07, s07),
          8: (f08, s08), 9: (f09, s09), 10: (f10, s10), 11: (f11, s11),
          12: (f12, s12), 13: (f13, s13), 14: (f14, s14),
          15: (f15, s15), 16: (f16, s16), 17: (f17, s17), 18: (f18, s18),
          19: (f19, s19), 20: (f20, s20), 21: (f21, s21),
          22: (f22, s22), 23: (f23, s23), 24: (f24, s24), 25: (f25, s25),
          26: (f26, s26), 27: (f27, s27), 28: (f28, s28),
          29: (f29, s29), 32: (f32, s32), 33: (f33, s33), 34: (f34, s34),
          38: (f38, s38), 39: (f39, s39), 40: (f40, s40), 41: (f41, s41),
          47: (f47, s47)}
ylab_panels = [4, 8, 15, 22, 29, 38, 47]
xlab_panels = [23, 28, 29, 38, 39, 41, 47]

# histograms
r2_centres = [0.157, 0.244, 0.330, 0.417, 0.503, 0.590, 0.677, 0.763, 0.850, 0.936]
r2_p = [0.048, 0.095, 0.048, 0.0, 0.0, 0.048, 0.143, 0.048, 0.095, 0.476]
bias_centres = [0.054, 0.140, 0.225, 0.311, 0.397, 0.482, 0.568, 0.654, 0.739, 0.825]
bias_p = [0.652, 0.217, 0.043, 0.043, 0.0, 0.0, 0.0, 0.0, 0.0, 0.043]

# ---------------- figure ----------------
W, H = 1012, 1205
fig = plt.figure(figsize=(W / 100, H / 100), dpi=100)


def px_axes(left, top, width, height):
    # axes placed with pixel coordinates measured from the top-left corner
    return fig.add_axes([left / W, 1 - (top + height) / H, width / W, height / H])


def style_ticks(ax, size=13):
    ax.tick_params(direction='in', length=4, width=0.8, top=True, right=True,
                   labelsize=size, pad=4)
    for sp in ax.spines.values():
        sp.set_linewidth(1.0)


line_f = line_s = None
for n, (fine, surr) in panels.items():
    r, c = divmod(n - 1, 7)
    ax = px_axes(77.3 + 135.8 * c, 9.9 + 143.2 * r, 129.4, 135.5)
    for yr in year_lines:
        ax.axvline(yr, color='0.25', lw=1.2)
    lf, = ax.plot(time_y, fine, color='#0000ff', lw=0.85)
    ls, = ax.plot(time_y, surr, color='#008000', lw=0.85)
    if line_f is None:
        line_f, line_s = lf, ls
    ax.set_xlim(4, 8.6)
    ax.set_ylim(-3.2, 1.5)
    ax.set_xticks([4, 5, 6, 7, 8])
    ax.set_yticks([-3, -2, -1, 0, 1])
    style_ticks(ax)
    ax.tick_params(labelleft=n in ylab_panels, labelbottom=n in xlab_panels)
    ax.text(0.0, 0.012, '#%d' % n, transform=ax.transAxes, fontsize=12.5,
            fontweight='bold', ha='left', va='bottom')

leg = fig.legend([line_f, line_s], ['Fine\u2212Resolution Model (220 m)', 'Surrogate Model'],
                 loc='upper left', bbox_to_anchor=(75.3 / W, 1 - 32.7 / H),
                 fontsize=15.3, frameon=True, fancybox=False, edgecolor='k',
                 borderpad=0.3, borderaxespad=0, handlelength=1.65,
                 handletextpad=0.25, labelspacing=0.55)
leg.get_frame().set_linewidth(1.0)

fig.text(31 / W, 1 - 365 / H, r'$\mathregular{s_{\Theta}}$', rotation=90,
         fontsize=18, ha='center', va='center')
fig.text(683 / W, 1 - 1042 / H, 'Time (y)', fontsize=15, ha='center', va='center')

# histogram (a)
ha = px_axes(77.3, 1011.7, 130, 136)
ha.bar(r2_centres, r2_p, width=0.077, color=(0, 0, 0.5625), edgecolor='k', linewidth=0.5)
ha.set_xlim(0, 1)
ha.set_ylim(0, 0.5)
ha.set_xticks([0, 0.5, 1])
ha.set_yticks([0, 0.2, 0.4])
ha.xaxis.set_major_formatter(StrMethodFormatter('{x:g}'))
ha.yaxis.set_major_formatter(StrMethodFormatter('{x:g}'))
style_ticks(ha)
fig.text(23 / W, 1 - 1078 / H, 'p', rotation=90, fontsize=16, ha='center', va='center')
fig.text(141 / W, 1 - 1187 / H, r'$\mathregular{R^2}$', fontsize=15, ha='center', va='center')
fig.text(212 / W, 1 - 1028 / H, '(a)', fontsize=10.5, ha='left', va='center')

# histogram (b)
hb = px_axes(281.7, 1011.7, 128.3, 136)
hb.bar(bias_centres, bias_p, width=0.066, color=(0, 0, 0.5625), edgecolor='k', linewidth=0.5)
hb.set_xlim(0.014, 0.856)
hb.set_ylim(0, 1)
hb.set_xticks([0.2, 0.4, 0.6, 0.8])
hb.set_yticks([0, 0.5, 1])
hb.xaxis.set_major_formatter(StrMethodFormatter('{x:g}'))
hb.yaxis.set_major_formatter(StrMethodFormatter('{x:g}'))
style_ticks(hb)
fig.text(228 / W, 1 - 1078 / H, 'p', rotation=90, fontsize=16, ha='center', va='center')
fig.text(345 / W, 1 - 1183 / H, 'Mean |Bias|', fontsize=15.5, ha='center', va='center')
fig.text(418 / W, 1 - 1022 / H, '(b)', fontsize=10.5, ha='left', va='center')

fig.savefig('out.png', dpi=100)
